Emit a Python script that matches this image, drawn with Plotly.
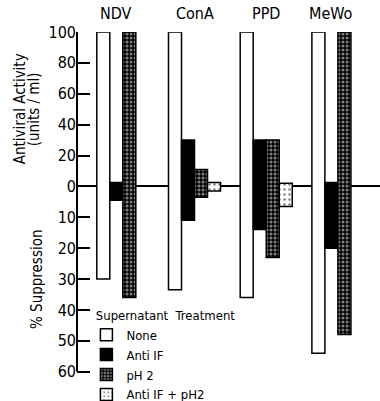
import plotly.graph_objects as go

# ---------------- data ----------------
groups = ["NDV", "ConA", "PPD", "MeWo"]
treatments = ["None", "Anti IF", "pH 2", "Anti IF + pH2"]

# antiviral activity (units/ml), drawn above zero
activity_none = [100, 100, 100, 100]
activity_anti_if = [2.5, 30, 30, 2.5]
activity_ph2 = [100, 11, 30, 100]
activity_anti_if_ph2 = [None, 2.5, 2, None]

# % suppression, drawn below zero
suppression_none = [30, 33.5, 36, 54]
suppression_anti_if = [4.5, 11, 14, 20]
suppression_ph2 = [36, 3.5, 23, 48]
suppression_anti_if_ph2 = [None, 1.5, 6.5, None]

activity_ticks = [0, 20, 40, 60, 80, 100]
suppression_ticks = [10, 20, 30, 40, 50, 60]

# ---------------- styling ----------------
SUPP_SCALE = 2.0          # one % suppression unit drawn twice as tall
BOTTOM_PAD = 19           # axis units of empty room under the last tick (legend space)
FONT = "DejaVu Sans Condensed"
BAR_PX = 13

styles = {
    "None": dict(color="white"),
    "Anti IF": dict(color="black"),
    "pH 2": dict(color="black",
                 pattern=dict(shape=".", fgcolor="white", bgcolor="black",
                              size=4, solidity=0.45)),
    "Anti IF + pH2": dict(color="white",
                          pattern=dict(shape=".", fgcolor="black", bgcolor="white",
                                       size=5, solidity=0.18)),
}
series = {
    "None": (activity_none, suppression_none),
    "Anti IF": (activity_anti_if, suppression_anti_if),
    "pH 2": (activity_ph2, suppression_ph2),
    "Anti IF + pH2": (activity_anti_if_ph2, suppression_anti_if_ph2),
}

fig = go.Figure()
for name in treatments:
    act, sup = series[name]
    base = [None if s is None else -SUPP_SCALE * s for s in sup]
    length = [None if (a is None or s is None) else a + SUPP_SCALE * s
              for a, s in zip(act, sup)]
    st = styles[name]
    marker = dict(color=st["color"], line=dict(color="black", width=1.5))
    if "pattern" in st:
        marker["pattern"] = st["pattern"]
    fig.add_trace(go.Bar(x=groups, y=length, base=base, name=name,
                         marker=marker))

tickvals = activity_ticks + [-SUPP_SCALE * s for s in suppression_ticks]
ticktext = [str(v) for v in activity_ticks] + [str(s) for s in suppression_ticks]
y_top = max(activity_ticks)
y_low = -SUPP_SCALE * max(suppression_ticks)

annotations = []
for i, g in enumerate(groups):
    present = sum(1 for name in treatments if series[name][0][i] is not None)
    missing = len(treatments) - present
    annotations.append(dict(x=g, xref="x", y=y_top, yref="y", yanchor="middle",
                            yshift=19, xshift=-missing * BAR_PX / 2,
                            text=g, showarrow=False,
                            font=dict(family=FONT, size=16, color="black")))
annotations += [
    dict(x=0, xref="paper", xanchor="center", xshift=-57,
         y=y_top / 2, yref="y",
         text="Antiviral Activity", textangle=-90, showarrow=False,
         font=dict(family=FONT, size=15, color="black")),
    dict(x=0, xref="paper", xanchor="center", xshift=-43,
         y=y_top / 2, yref="y",
         text="(units / ml)", textangle=-90, showarrow=False,
         font=dict(family=FONT, size=15, color="black")),
    dict(x=0, xref="paper", xanchor="center", xshift=-40,
         y=y_low / 2, yref="y",
         text="% Suppression", textangle=-90, showarrow=False,
         font=dict(family=FONT, size=15, color="black")),
]

fig.update_layout(
    width=380, height=401,
    margin=dict(l=77, r=0, t=32, b=0, autoexpand=False),
    paper_bgcolor="white", plot_bgcolor="white",
    barmode="group", bargap=0.274, bargroupgap=0,
    showlegend=True,
    legend=dict(x=0.031, y=0.266, xanchor="left", yanchor="top",
                bgcolor="rgba(0,0,0,0)", tracegroupgap=0, itemwidth=30,
                title=dict(text="\u00a0\u00a0Supernatant\u00a0\u00a0Treatment",
                           font=dict(family=FONT, size=13, color="black")),
                font=dict(family=FONT, size=13, color="black")),
    annotations=annotations,
    shapes=[dict(type="line", xref="paper", x0=0, x1=0, yref="y",
                 y0=y_low, y1=y_top, layer="above",
                 line=dict(color="black", width=2))],
    xaxis=dict(range=[-0.639, 3.587], showticklabels=False, showgrid=False,
               zeroline=False, showline=False, ticks="", automargin=False),
    yaxis=dict(range=[y_low - BOTTOM_PAD, y_top],
               tickvals=tickvals, ticktext=ticktext,
               ticks="inside", ticklen=13, tickwidth=2, tickcolor="black",
               showline=False, automargin=False,
               showgrid=False, zeroline=True, zerolinewidth=2,
               zerolinecolor="black", layer="above traces",
               tickfont=dict(family=FONT, size=16, color="black")),
)

fig.write_html("out.html",
               config={"displayModeBar": False},
               post_script="document.body.style.margin='0';"
                           "document.body.style.overflow='hidden';")
